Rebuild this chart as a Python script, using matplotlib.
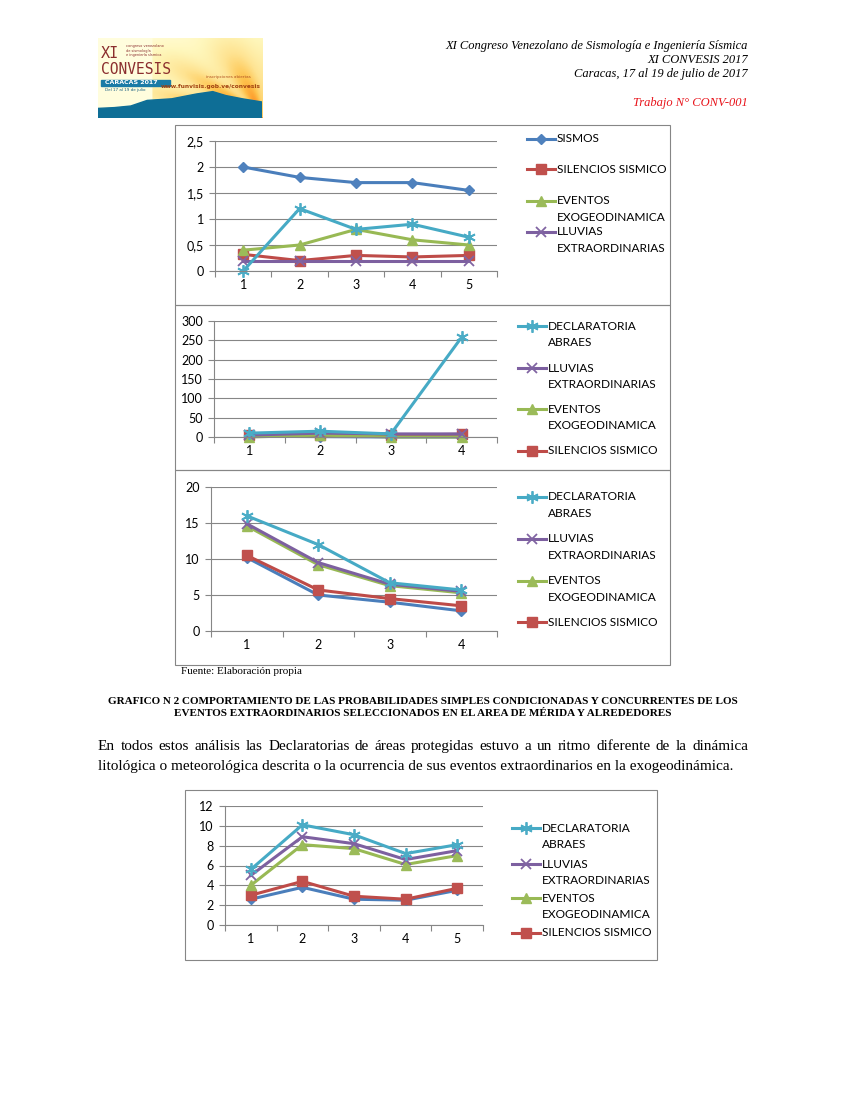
import numpy as np
import matplotlib
matplotlib.use("Agg")
from matplotlib import pyplot as plt
from matplotlib.lines import Line2D
from matplotlib.patches import Rectangle, Polygon

# ---- data ----
x5 = [1, 2, 3, 4, 5]
x4 = [1, 2, 3, 4]

# chart 1 (top)
c1_sismos = [2.0, 1.8, 1.7, 1.7, 1.55]
c1_silencios = [0.32, 0.2, 0.3, 0.27, 0.3]
c1_eventos = [0.4, 0.5, 0.8, 0.6, 0.5]
c1_lluvias = [0.2, 0.2, 0.2, 0.2, 0.2]
c1_declaratoria = [0.0, 1.2, 0.8, 0.9, 0.65]
c1_yticks = [0, 0.5, 1, 1.5, 2, 2.5]
c1_ylabels = ["0", "0,5", "1", "1,5", "2", "2,5"]

# chart 2 (middle)
c2_sismos = [2, 1, 0, 0]
c2_silencios = [5, 5, 5, 7]
c2_eventos = [0, 5, 0, 0]
c2_lluvias = [5, 10, 8, 8]
c2_declaratoria = [10, 15, 8, 258]
c2_yticks = [0, 50, 100, 150, 200, 250, 300]

# chart 3 (bottom of the stack)
c3_sismos = [10.2, 5.0, 4.0, 2.8]
c3_silencios = [10.5, 5.7, 4.5, 3.5]
c3_eventos = [14.6, 9.2, 6.3, 5.3]
c3_lluvias = [14.9, 9.5, 6.5, 5.5]
c3_declaratoria = [16.0, 12.0, 6.7, 5.7]
c3_yticks = [0, 5, 10, 15, 20]

# chart 4 (lower figure)
c4_sismos = [2.6, 3.8, 2.6, 2.5, 3.5]
c4_silencios = [3.0, 4.4, 2.9, 2.6, 3.7]
c4_eventos = [4.0, 8.1, 7.7, 6.1, 7.0]
c4_lluvias = [5.0, 8.9, 8.2, 6.6, 7.5]
c4_declaratoria = [5.6, 10.1, 9.1, 7.2, 8.1]
c4_yticks = [0, 2, 4, 6, 8, 10, 12]

W, H = 847, 1095
STAR = (6, 2, 0)
STYLE = {
    "SISMOS": dict(color="#4A7EBB", mfc="#4F81BD", mec="#4F81BD", marker="D", ms=5.5),
    "SILENCIOS SISMICO": dict(color="#BE4B48", mfc="#C0504D", mec="#C0504D", marker="s", ms=7),
    "EVENTOS": dict(color="#98B954", mfc="#9BBB59", mec="#9BBB59", marker="^", ms=7.5),
    "LLUVIAS": dict(color="#7D60A0", mfc="#8064A2", mec="#8064A2", marker="x", ms=7, mew=1.3),
    "DECLARATORIA": dict(color="#46AAC5", mfc="#4BACC6", mec="#4BACC6", marker=STAR, ms=9, mew=1.3),
}
GRID = "#868686"
CHART_FONT = ["Lato", "DejaVu Sans"]
FS = 8.6
SERIF = ["Liberation Serif", "DejaVu Serif"]

fig = plt.figure(figsize=(W / 100, H / 100), dpi=100)


def fx(x):
    return x / W


def fy(y):
    return 1 - y / H


def box(x0, y0, x1, y1):
    fig.patches.append(Rectangle((fx(x0), fy(y1)), (x1 - x0) / W, (y1 - y0) / H,
                                 transform=fig.transFigure, fill=False,
                                 edgecolor=GRID, lw=0.8))


def make_axes(left, top, right, bottom, ncat, yticks, ylabels=None):
    ax = fig.add_axes([fx(left), fy(bottom), (right - left) / W, (bottom - top) / H])
    ax.set_xlim(0.5, ncat + 0.5)
    ax.set_ylim(yticks[0], yticks[-1])
    ax.set_yticks(yticks)
    ax.set_yticklabels(ylabels if ylabels else [str(t) for t in yticks],
                       family=CHART_FONT, fontsize=FS + 0.4)
    ax.set_xticks(range(1, ncat + 1))
    ax.set_xticklabels([str(i) for i in range(1, ncat + 1)], family=CHART_FONT,
                       fontsize=FS + 0.4)
    ax.set_xticks(np.arange(0.5, ncat + 1), minor=True)
    ax.tick_params(axis="x", which="major", length=0, pad=6)
    ax.tick_params(axis="x", which="minor", length=4, color=GRID, width=0.8)
    ax.tick_params(axis="y", length=4, color=GRID, width=0.8, pad=4)
    ax.yaxis.grid(True, color=GRID, lw=0.8)
    ax.set_axisbelow(True)
    for s in ["top", "right"]:
        ax.spines[s].set_visible(False)
    for s in ["left", "bottom"]:
        ax.spines[s].set_color(GRID)
        ax.spines[s].set_linewidth(0.8)
    ax.patch.set_alpha(0)
    return ax


def draw(ax, x, series):
    for name, vals in series:
        ax.plot(x, vals, lw=2.2, clip_on=False, **STYLE[name])


def legend(x0, entries):
    # entries: (style key, [label lines], y of first line)
    for key, lines, y in entries:
        st = STYLE[key]
        fig.lines.append(Line2D([fx(x0), fx(x0 + 14), fx(x0 + 28)], [fy(y)] * 3,
                                transform=fig.transFigure, lw=2.2, markevery=[1], **st))
        for i, t in enumerate(lines):
            fig.text(fx(x0 + 30), fy(y + 16.5 * i), t, family=CHART_FONT, fontsize=FS,
                     va="center", ha="left")


# ---- page header ----
logo = fig.add_axes([fx(98), fy(118), 164 / W, 80 / H])
gx, gy = np.meshgrid(np.linspace(0, 1, 200), np.linspace(0, 1, 100))
dist = np.hypot(gx - 1.0, (gy - 0.05) * 0.8)
ang = np.arctan2(gy, 1.0 - gx)
shade = np.clip(1.1 - dist, 0, 1) * (0.8 + 0.2 * np.cos(ang * 14))
shade[gx < 0.33] = 0
logo.imshow(shade, extent=[0, 1, 0, 1], origin="lower", cmap="YlOrBr", vmin=-0.05,
            vmax=2.0, aspect="auto")
mountain = [(0, 0), (0, 0.12), (0.1, 0.13), (0.2, 0.15), (0.3, 0.22), (0.45, 0.24),
            (0.6, 0.3), (0.7, 0.33), (0.78, 0.28), (0.88, 0.24), (1, 0.2), (1, 0)]
logo.add_patch(Polygon(mountain, closed=True, color="#0E6E96"))
logo.add_patch(Rectangle((0.02, 0.4), 0.42, 0.08, color="#1B7BA6"))
logo.text(0.04, 0.44, "CARACAS 2017", color="white", fontsize=4.5, va="center", weight="bold")
logo.text(0.04, 0.35, "Del 17 al 19 de julio", color="#1B5F80", fontsize=3, va="center")
logo.text(0.02, 0.8, "XI", color="#8B2E2E", fontsize=11, family="DejaVu Sans Mono", va="center")
logo.text(0.02, 0.6, "CONVESIS", color="#8B2E2E", fontsize=10.5, family="DejaVu Sans Mono",
          va="center")
logo.text(0.17, 0.84, "congreso venezolano\nde sismología\ne ingeniería sísmica",
          color="#8B2E2E", fontsize=2.5, va="center", linespacing=1.1)
logo.text(0.93, 0.5, "inscripciones abiertas", color="#B05020", fontsize=3, ha="right")
logo.text(0.99, 0.38, "www.funvisis.gob.ve/convesis", color="#A04010", fontsize=4.2,
          ha="right", weight="bold")
logo.set_xlim(0, 1)
logo.set_ylim(0, 1)
logo.axis("off")

head_kw = dict(family=SERIF, style="italic", fontsize=9.0, ha="right", va="center")
fig.text(fx(748), fy(46), "XI Congreso Venezolano de Sismología e Ingeniería Sísmica", **head_kw)
fig.text(fx(748), fy(60), "XI CONVESIS 2017", **head_kw)
fig.text(fx(748), fy(74), "Caracas, 17 al 19 de julio de 2017", **head_kw)
fig.text(fx(748), fy(103), "Trabajo N° CONV-001", color="#E8141B", **head_kw)

# ---- stacked charts ----
box(175, 125, 670, 305)
box(175, 305, 670, 470)
box(175, 470, 670, 665)

ax1 = make_axes(215, 141, 497, 271, 5, c1_yticks, c1_ylabels)
draw(ax1, x5, [("SISMOS", c1_sismos), ("SILENCIOS SISMICO", c1_silencios),
               ("EVENTOS", c1_eventos), ("LLUVIAS", c1_lluvias),
               ("DECLARATORIA", c1_declaratoria)])
legend(527, [("SISMOS", ["SISMOS"], 139),
             ("SILENCIOS SISMICO", ["SILENCIOS SISMICO"], 169),
             ("EVENTOS", ["EVENTOS", "EXOGEODINAMICA"], 201),
             ("LLUVIAS", ["LLUVIAS", "EXTRAORDINARIAS"], 232)])

ax2 = make_axes(214, 321, 497, 437, 4, c2_yticks)
draw(ax2, x4, [("SISMOS", c2_sismos), ("SILENCIOS SISMICO", c2_silencios),
               ("EVENTOS", c2_eventos), ("LLUVIAS", c2_lluvias),
               ("DECLARATORIA", c2_declaratoria)])
legend(518, [("DECLARATORIA", ["DECLARATORIA", "ABRAES"], 326),
             ("LLUVIAS", ["LLUVIAS", "EXTRAORDINARIAS"], 368),
             ("EVENTOS", ["EVENTOS", "EXOGEODINAMICA"], 409),
             ("SILENCIOS SISMICO", ["SILENCIOS SISMICO"], 451)])

ax3 = make_axes(211, 487, 497, 631, 4, c3_yticks)
draw(ax3, x4, [("SISMOS", c3_sismos), ("SILENCIOS SISMICO", c3_silencios),
               ("EVENTOS", c3_eventos), ("LLUVIAS", c3_lluvias),
               ("DECLARATORIA", c3_declaratoria)])
legend(518, [("DECLARATORIA", ["DECLARATORIA", "ABRAES"], 497),
             ("LLUVIAS", ["LLUVIAS", "EXTRAORDINARIAS"], 539),
             ("EVENTOS", ["EVENTOS", "EXOGEODINAMICA"], 581),
             ("SILENCIOS SISMICO", ["SILENCIOS SISMICO"], 622)])

fig.text(fx(181), fy(672), "Fuente: Elaboración propia", family=SERIF, fontsize=8, va="center")

cap_kw = dict(family=SERIF, weight="bold", fontsize=8, ha="center", va="center")
fig.text(fx(423), fy(701), "GRAFICO N 2 COMPORTAMIENTO DE LAS PROBABILIDADES SIMPLES "
         "CONDICIONADAS Y CONCURRENTES DE LOS", **cap_kw)
fig.text(fx(423), fy(714), "EVENTOS EXTRAORDINARIOS SELECCIONADOS EN EL AREA DE MÉRIDA "
         "Y ALREDEDORES", **cap_kw)

# ---- paragraph (first line justified) ----
body_kw = dict(family=SERIF, fontsize=11.0, va="baseline")
line1 = ("En todos estos análisis las Declaratorias de áreas protegidas estuvo a un ritmo "
         "diferente de la dinámica")
line2 = ("litológica o meteorológica descrita o la ocurrencia de sus eventos extraordinarios "
         "en la exogeodinámica.")
renderer = fig.canvas.get_renderer()
words = [fig.text(0, fy(750), w, **body_kw) for w in line1.split()]
widths = [t.get_window_extent(renderer).width for t in words]
gap = (748 - 98 - sum(widths)) / (len(words) - 1)
xpos = 98
for t, w in zip(words, widths):
    t.set_x(fx(xpos))
    xpos += w + gap
fig.text(fx(98), fy(770), line2, **body_kw)

# ---- lower chart ----
box(185, 790, 657, 960)
ax4 = make_axes(225, 806, 483, 925, 5, c4_yticks)
draw(ax4, x5, [("SISMOS", c4_sismos), ("SILENCIOS SISMICO", c4_silencios),
               ("EVENTOS", c4_eventos), ("LLUVIAS", c4_lluvias),
               ("DECLARATORIA", c4_declaratoria)])
legend(512, [("DECLARATORIA", ["DECLARATORIA", "ABRAES"], 828),
             ("LLUVIAS", ["LLUVIAS", "EXTRAORDINARIAS"], 864),
             ("EVENTOS", ["EVENTOS", "EXOGEODINAMICA"], 898),
             ("SILENCIOS SISMICO", ["SILENCIOS SISMICO"], 933)])

fig.savefig("out.png", dpi=100)
